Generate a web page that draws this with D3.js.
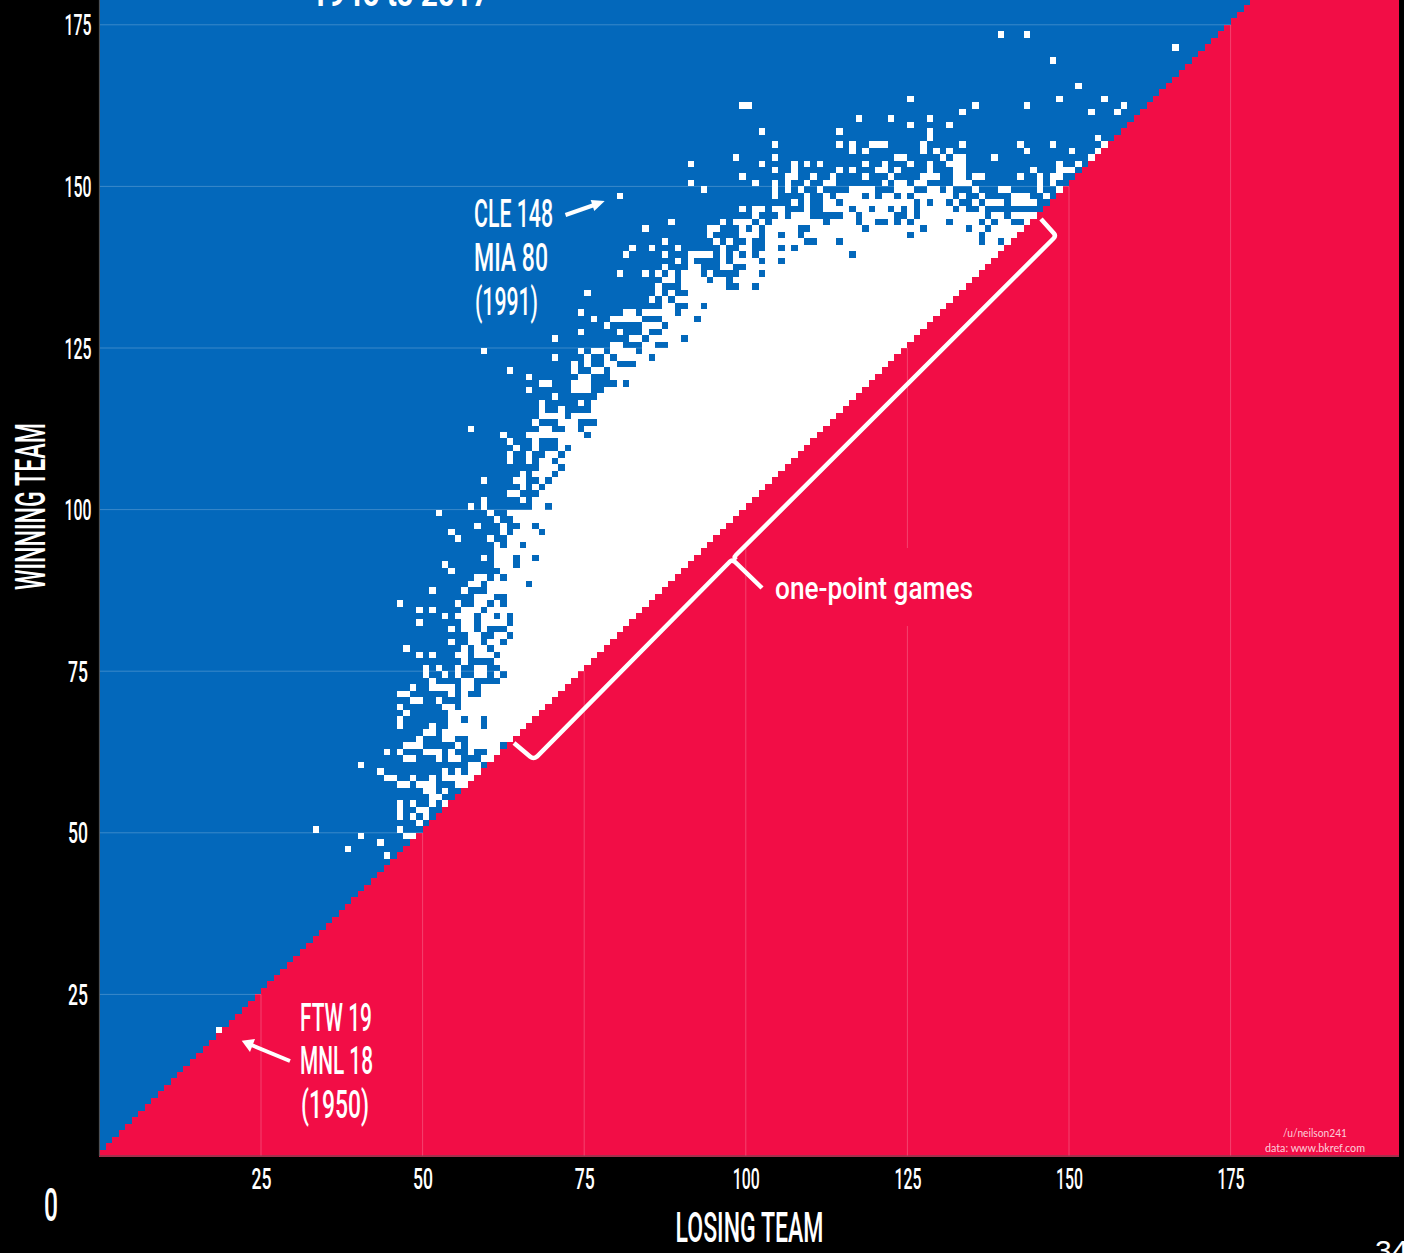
<!DOCTYPE html>
<html>
<head>
<meta charset="utf-8">
<script src="https://cdn.jsdelivr.net/npm/d3@7/dist/d3.min.js"></script>
<style>
html,body{margin:0;padding:0;background:#000;overflow:hidden}
svg{display:block}
text{font-family:"Roboto","Liberation Sans",sans-serif;fill:#fff}
</style>
</head>
<body>
<svg id="chart" width="1404" height="1253"></svg>
<script>
// ---- data ----
const losingTicks = [25, 50, 75, 100, 125, 150, 175];
const winningTicks = [25, 50, 75, 100, 125, 150, 175];
const scoreRows = d3.range(0, 180);   // every winning score in view, for the impossible (red) half
const winningScores = [173,171,169,165,163,162,161,160,159,158,157,156,155,154,153,152,151,150,149,148,147,146,145,144,143,142,141,140,139,138,137,136,135,134,133,132,131,130,129,128,127,126,125,124,123,122,121,120,119,118,117,116,115,114,113,112,111,110,109,108,107,106,105,104,103,102,101,100,99,98,97,96,95,94,93,92,91,90,89,88,87,86,85,84,83,82,81,80,79,78,77,76,75,74,73,72,71,70,69,68,67,66,65,64,63,62,61,60,59,58,57,56,55,54,53,52,51,50,49,48,47,46,19];
const losingScoresSeen = [
"139,143","166","147","151","125,148,155","99-100,135,143,158","133,153,157","117,122,128","125,131","102,114,128","128,154",
"104,114,116,119-121,127,133,142,147,155","116,118,127,129,131,143,150,154","98,104,123,124,130,132,133,138,153",
"91,102,107,109,111,118,121,125,128,131-133,148,151","104,107,114,116,120,121,123,128,132,133,144,148-150",
"99,106,107,110,113,118,122,127-129,132,133,135,136,142,145,147,148","91,101,104,106,109,112,113,121,123,124,126,127,132-134,145,147",
"93,104,106,108,111,116-119,123-125,128,129,131,135,139,140,145,148","80,104,109,112,114-117,119,121,122,124,126-131,133,136,141-143,146",
"107,109,112,113,115-125,127,129,130,132,135,137-139,141-144","99,101,102,104,105,109,112-115,117,118,120,121,123,125,127-131,133,136",
"101,105,107-109,115,116,118-122,125,127-136,138,139,141-144","88,96,98-100,102,104-111,113-116,118,119,122,124,126-130,132-135,137,139,140,143",
"84,94,95,99,101,103-107,110-117,119-126,128-133,135,136,138-142","94,99-101,103,104,106,107,109-124,126-135,137-141",
"87,95,97,100,103-108,111-113,115-135,137,138,140","82,85,89,96,99,100,103,104,106,108-139","81,87,91-94,96,98,100,102-115,117-138",
"89,91,96,98-101,103,104,106-137","87,91,92,96,97,100-136","80,84,86,88,90-92,94,99-101,103-135","87,88,90-93,95,96,98-134",
"86,90-96,99,100,102-133","75,86,88,91-132","85,87,89-131","87,88,91,92,94-130","74,81,82,84-88,90-129","76,79-83,87-91,93-128",
"78,84-86,88-127","74,80,84,87-126","70,82,83,85-89,91-125","79,80,84,85,88-124","59,74,76,77,79-82,84-123","70,75,78,80-84,86-122",
"73,75,78,79,83-121","63,73,76,77,79-120","66,74,75,79-119","68,69,73-75,80,82-118","66,73-75,78-117","70,77-116","68,74,76-115",
"68,71,76-114","68-71,73-113","67,71-73,77-112","57,68,69,72,73,75-111","62,66-74,76-110","63,67,71-109","64,67,71,73-108",
"63,66,69,70,72-107","63,66,68,69,71-106","68-70,72-105","65,67-69,71-104","59,64,65,68,70-103","65,67,69-102","63,64,68-101",
"59,65,67-100","57,59,67,68,70-99","52,60,63-98","61,64-97","58,62,65,66,68-96","54,62,64-67,69-95","55,60,63-94","61,63,64,66-93",
"61-92","59,61-63,65,66,68-91","53,61-63,65-90","54,62-89","58,59,61,63-88","57,58,60-65,67-87","51,56,60-86","58-60,63-85",
"46,55,58,59,61,63-84","49,51,56-58,60-83","53,55-57,59,60,62,64-82","49,56,57,59-62,64-81","54,56,57,59,63-80","57,58,61,62,64-79",
"54,57,58,60,61,63-78","47,56,58,59,61-77","49,51,55,56,58-60,62-76","56,61-75","50,52,55,58,59,62-74","50,53,55,58,59,61,63-73",
"51,56,57,62-72","48,51-54,56,57,59-71","46,47,54,56,59-70","48,49,52,56-69","46,53,54,56-68","47,54-67","46,54,55,57,58,60-66",
"46,51,54-58,60-65","50,51,53-64","49,53,54,57-63","47-49,55,57-61","44,46,50-52,54,57,60,61","47,48,52,54,55,59,60","40,57,58",
"43,53,55,57,58","44,45,48,51,53-57","46,47,49-51,55,56","50,51,53","51,52","46,48,51,53","46,49,50","46,48,50","49","33,46",
"40,47,48","43","38","44","18"
];
// ------------------------------------

const BLUE = "#0368bb", RED = "#f20d46";
const svg = d3.select("#chart");
const margin = {left: 99.4, bottom: 1156, right: 1399};
const unit = (1069 - 261) / 125;
const x = d3.scaleLinear().domain([0, (margin.right - margin.left) / unit]).range([margin.left, margin.right]);
const y = d3.scaleLinear().domain([0, margin.bottom / unit]).range([margin.bottom, 0]);
const cell = x(1) - x(0);

svg.append("rect").attr("width", 1404).attr("height", 1253).attr("fill", "#000");
svg.append("rect").attr("x", x.range()[0]).attr("y", 0)
   .attr("width", x.range()[1] - x.range()[0]).attr("height", y.range()[0]).attr("fill", BLUE);

// red half: winning score can not be <= losing score
svg.append("g").attr("shape-rendering", "crispEdges").selectAll("rect").data(scoreRows).join("rect")
   .attr("x", d => x(d))
   .attr("y", d => y(d + 1))
   .attr("width", d => x.range()[1] - x(d))
   .attr("height", cell + 0.5)
   .attr("fill", RED);

// grid lines only run as far as the diagonal
const grid = svg.append("g").attr("stroke", "#fff").attr("stroke-opacity", 0.22).attr("stroke-width", 1);
grid.selectAll("line.h").data(winningTicks).join("line").attr("class", "h")
   .attr("x1", x(0)).attr("x2", d => x(d)).attr("y1", d => y(d)).attr("y2", d => y(d));
grid.selectAll("line.v").data(losingTicks).join("line").attr("class", "v")
   .attr("x1", d => x(d)).attr("x2", d => x(d)).attr("y1", y(0)).attr("y2", d => y(d));
// the annotation boxes sit on top of the grid lines
svg.append("rect").attr("x", 770).attr("y", 548).attr("width", 210).attr("height", 78).attr("fill", RED);
svg.append("rect").attr("x", 738).attr("y", y(100)).attr("width", 14).attr("height", 548 - y(100)).attr("fill", RED);

// observed final scores
const seen = winningScores.flatMap((w, i) => losingScoresSeen[i].split(",").flatMap(part => {
  const [a, b] = part.split("-").map(Number);
  return d3.range(a, (b === undefined ? a : b) + 1).map(l => ({w, l}));
}));
svg.append("g").attr("fill", "#fff").attr("shape-rendering", "crispEdges")
   .selectAll("rect").data(seen).join("rect")
   .attr("x", d => x(d.l)).attr("y", d => y(d.w + 1))
   .attr("width", cell).attr("height", cell);

// plot edges
svg.append("path").attr("d", `M${x(0)},0V${y(0)}H${x.range()[1]}`).attr("fill", "none")
   .attr("stroke", "#555").attr("stroke-width", 1);

// axes
function squeeze(sel, size) {
  sel.attr("font-size", size).attr("font-weight", 500)
     .attr("lengthAdjust", "spacingAndGlyphs")
     .attr("textLength", function () { return this.textContent.length === 3 ? 27 : 20; });
}
const xAxis = svg.append("g").attr("transform", `translate(0,${y(0)})`)
   .call(d3.axisBottom(x).tickValues(losingTicks).tickSize(0).tickPadding(0));
xAxis.select(".domain").remove();
xAxis.selectAll("text").attr("y", 32.5).attr("dy", 0).attr("text-anchor", "middle").call(squeeze, 30);
const yAxis = svg.append("g").attr("transform", `translate(${x(0)},0)`)
   .call(d3.axisLeft(y).tickValues(winningTicks).tickSize(0).tickPadding(0));
yAxis.select(".domain").remove();
yAxis.selectAll("text").attr("x", 78 - x(0)).attr("dy", 10).attr("text-anchor", "middle").call(squeeze, 30);

function label(t, px, py, size, width, opts = {}) {
  const s = svg.append("text").text(t).attr("x", px).attr("y", py).attr("font-size", size)
     .attr("text-anchor", opts.anchor || "start").attr("font-weight", opts.weight || 500)
     .attr("lengthAdjust", "spacingAndGlyphs").attr("textLength", width);
  if (opts.opacity) s.attr("fill-opacity", opts.opacity);
  if (opts.family) s.style("font-family", opts.family);
  if (opts.rotate) s.attr("transform", `rotate(${opts.rotate} ${px} ${py})`);
  return s;
}
label("LOSING TEAM", 749.5, 1242, 43, 148, {anchor: "middle"});
label("WINNING TEAM", 45, 506.5, 43, 167, {anchor: "middle", rotate: -90});
label("0", 51, 1221, 46, 14, {anchor: "middle"});
label("1946 to 2017", 400, 6, 36, 178, {anchor: "middle", weight: 700});
svg.append("text").text("34").attr("x", 1375).attr("y", 1261).attr("font-size", 30)
   .style("font-family", "'Liberation Sans',sans-serif");

label("CLE 148", 474, 227, 39, 79);
label("MIA 80", 474, 271, 39, 74);
label("(1991)", 475, 315, 39, 63);
label("FTW 19", 300, 1031, 39, 72);
label("MNL 18", 300, 1074, 39, 73);
label("(1950)", 301, 1118, 39, 68);
label("one-point games", 775, 599, 31, 198);
label("/u/neilson241", 1315, 1137, 11, 64, {anchor: "middle", opacity: 0.8, family: "Lato,sans-serif", weight: 400});
label("data: www.bkref.com", 1315, 1152, 11, 100, {anchor: "middle", opacity: 0.8, family: "Lato,sans-serif", weight: 400});

// arrows and the bracket
const ink = svg.append("g").attr("fill", "none").attr("stroke", "#fff");
ink.append("path").attr("stroke-width", 4).attr("d", "M290,1061L249,1044");
ink.append("path").attr("stroke-width", 4).attr("d", "M565.5,215L597,204");
ink.append("path").attr("stroke-width", 4.5).attr("d", "M514,743L530,756.5Q533.5,759.5 537,756.5L730,561.5Q732,559.5 735,562L762,588");
ink.append("path").attr("stroke-width", 4.5).attr("d", "M1041,219L1054,233.5Q1056,236 1053.5,238.5L736,555Q733.5,557.5 736,560");
svg.append("path").attr("fill", "#fff").attr("d", "M241.7,1040.7L255,1039L250,1052Z");
svg.append("path").attr("fill", "#fff").attr("d", "M604.7,201L590.7,200L594.3,211Z");
</script>
</body>
</html>
